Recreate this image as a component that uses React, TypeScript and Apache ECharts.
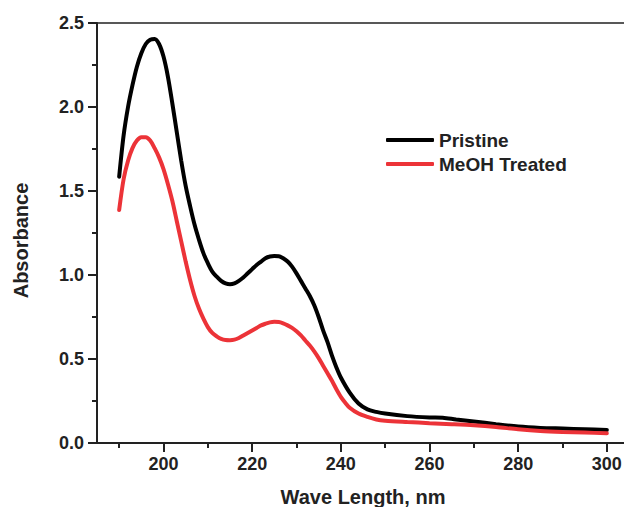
import React, { useEffect, useRef } from "react";
import * as echarts from "echarts";

const wavelengthsPristine = [190, 191, 192, 193, 194, 195, 196, 197, 198, 199, 200, 201, 202, 203, 204, 205, 206, 207, 208, 209, 210, 211, 212, 213, 214, 215, 216, 217, 218, 219, 220, 221, 222, 223, 224, 225, 226, 227, 228, 229, 230, 231, 232, 233, 234, 235, 236, 237, 238, 239, 240, 242, 244, 246, 248, 250, 255, 260, 263, 266, 270, 275, 280, 285, 290, 295, 300];
const pristine = [1.585, 1.83, 2.0, 2.13, 2.24, 2.32, 2.375, 2.40, 2.405, 2.375, 2.30, 2.18, 2.02, 1.85, 1.68, 1.53, 1.41, 1.30, 1.21, 1.13, 1.07, 1.02, 0.99, 0.965, 0.95, 0.945, 0.95, 0.965, 0.985, 1.01, 1.035, 1.06, 1.08, 1.10, 1.11, 1.113, 1.112, 1.10, 1.08, 1.05, 1.01, 0.965, 0.92, 0.875, 0.82, 0.75, 0.67, 0.60, 0.52, 0.45, 0.39, 0.30, 0.235, 0.20, 0.185, 0.175, 0.16, 0.152, 0.15, 0.14, 0.128, 0.112, 0.098, 0.09, 0.086, 0.082, 0.078];

const wavelengthsMeOH = [190, 191, 192, 193, 194, 195, 196, 197, 198, 199, 200, 201, 202, 203, 204, 205, 206, 207, 208, 209, 210, 211, 212, 213, 214, 215, 216, 217, 218, 219, 220, 221, 222, 223, 224, 225, 226, 227, 228, 229, 230, 231, 232, 233, 234, 235, 236, 237, 238, 239, 240, 241, 242, 244, 246, 248, 250, 255, 260, 265, 270, 275, 280, 285, 290, 295, 300];
const meohTreated = [1.387, 1.57, 1.68, 1.755, 1.80, 1.82, 1.82, 1.80, 1.755, 1.70, 1.63, 1.54, 1.44, 1.32, 1.20, 1.08, 0.97, 0.875, 0.80, 0.74, 0.69, 0.655, 0.635, 0.62, 0.613, 0.612, 0.615, 0.625, 0.64, 0.655, 0.67, 0.685, 0.70, 0.71, 0.718, 0.721, 0.72, 0.712, 0.70, 0.685, 0.665, 0.64, 0.61, 0.58, 0.545, 0.505, 0.46, 0.415, 0.37, 0.32, 0.275, 0.24, 0.21, 0.175, 0.155, 0.14, 0.133, 0.125, 0.118, 0.112, 0.105, 0.095, 0.082, 0.072, 0.066, 0.062, 0.058];

const xLabelValues = [200, 220, 240, 260, 280, 300];
const xMinorTickValues = [190, 210, 230, 250, 270, 290];

const FONT = "'Liberation Sans', Arial, Helvetica, sans-serif";
const TEXT = "#222";

export default function App() {
  const ref = useRef<HTMLDivElement>(null);
  useEffect(() => {
    if (!ref.current) return;
    const chart = echarts.init(ref.current, undefined, { renderer: "svg" });
    chart.setOption({
      animation: false,
      backgroundColor: "#fff",
      textStyle: { fontFamily: FONT },
      grid: {
        left: 97,
        top: 23,
        right: -5,
        bottom: 64,
        outerBoundsMode: "none",
        containLabel: false,
        show: true,
        borderColor: "#222",
        borderWidth: 1.5,
        backgroundColor: "transparent",
      },
      legend: {
        orient: "vertical",
        left: 381,
        top: 125,
        itemWidth: 48,
        itemHeight: 4,
        itemGap: 4,
        icon: "roundRect",
        textStyle: { fontFamily: FONT, fontSize: 19, fontWeight: "bold", color: TEXT, lineHeight: 20 },
        data: ["Pristine", "MeOH Treated"],
      },
      xAxis: [
        {
          type: "value",
          min: 185,
          max: 305,
          name: "Wave Length, nm",
          nameLocation: "middle",
          nameGap: 44,
          nameTextStyle: { fontFamily: FONT, fontSize: 20, fontWeight: "bold", color: TEXT },
          axisLine: { show: true, lineStyle: { color: "#222", width: 2 } },
          axisTick: { show: true, length: 9, lineStyle: { color: "#222", width: 2 }, customValues: xLabelValues },
          axisLabel: { fontFamily: FONT, fontSize: 18, fontWeight: "bold", color: TEXT, margin: 12, customValues: xLabelValues },
          splitLine: { show: false },
        },
        {
          type: "value",
          min: 185,
          max: 305,
          position: "bottom",
          axisLine: { show: false },
          axisTick: { show: true, length: 5, lineStyle: { color: "#222", width: 2 }, customValues: xMinorTickValues },
          axisLabel: { show: false, customValues: xMinorTickValues },
          splitLine: { show: false },
        },
      ],
      yAxis: {
        type: "value",
        min: 0,
        max: 2.5,
        interval: 0.5,
        name: "Absorbance",
        nameLocation: "middle",
        nameGap: 66,
        nameTextStyle: { fontFamily: FONT, fontSize: 20, fontWeight: "bold", color: TEXT, padding: [0, 15, 0, 0] },
        axisLine: { show: true, lineStyle: { color: "#222", width: 2 } },
        axisTick: { show: true, length: 9, lineStyle: { color: "#222", width: 2 } },
        minorTick: { show: true, splitNumber: 2, length: 5, lineStyle: { color: "#222", width: 2 } },
        axisLabel: {
          fontFamily: FONT,
          fontSize: 18,
          fontWeight: "bold",
          color: TEXT,
          margin: 13,
          formatter: (v: number) => v.toFixed(1),
        },
        splitLine: { show: false },
      },
      series: [
        {
          name: "Pristine",
          type: "line",
          xAxisIndex: 0,
          data: wavelengthsPristine.map((w, i) => [w, pristine[i]]),
          showSymbol: false,
          symbol: "none",
          smooth: 0.3,
          itemStyle: { color: "#000" },
          lineStyle: { color: "#000", width: 4, cap: "round" },
        },
        {
          name: "MeOH Treated",
          type: "line",
          xAxisIndex: 0,
          data: wavelengthsMeOH.map((w, i) => [w, meohTreated[i]]),
          showSymbol: false,
          symbol: "none",
          smooth: 0.3,
          itemStyle: { color: "#ec3338" },
          lineStyle: { color: "#ec3338", width: 4, cap: "round" },
        },
      ],
    });
    return () => chart.dispose();
  }, []);
  return <div ref={ref} style={{ width: 624, height: 507, position: "fixed", left: 0, top: 0 }} />;
}
